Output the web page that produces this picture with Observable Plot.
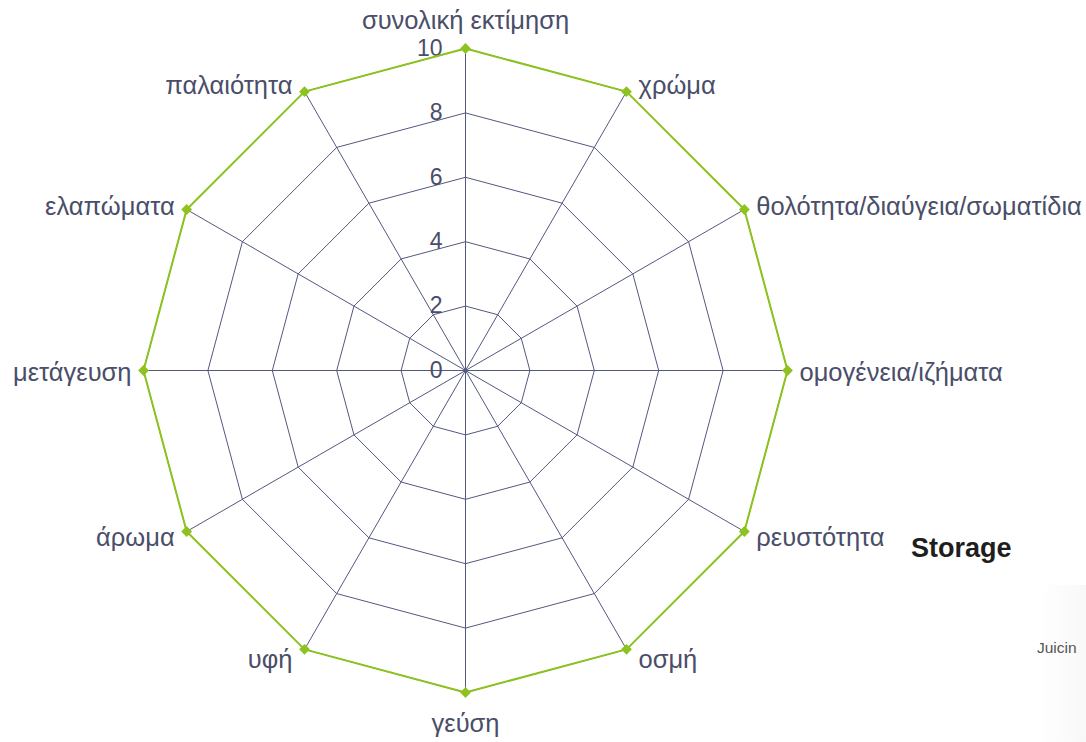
<!DOCTYPE html>
<html>
<head>
<meta charset="utf-8">
<script src="https://cdn.jsdelivr.net/npm/d3@7"></script>
<script src="https://cdn.jsdelivr.net/npm/@observablehq/plot@0.6"></script>
<style>
  html, body { margin: 0; padding: 0; background: #fff; }
  #wrap { position: relative; width: 1086px; height: 742px; overflow: hidden; }
  #chart svg { display: block; }
  .extra { position: absolute; font-family: "Liberation Sans", Arial, sans-serif; white-space: nowrap; }
</style>
</head>
<body>
<div id="wrap">
  <div id="chart"></div>
  <div class="extra" style="left:1040px; top:585px; width:46px; height:157px; background:linear-gradient(to right,rgba(255,255,255,0),#f8f8f8);"></div>
  <div class="extra" style="left:911px; top:533px; font-size:27px; font-weight:bold; color:#1e1e1e;">Storage</div>
  <div class="extra" style="left:1037px; top:639px; font-size:15.5px; color:#555;">Juicin</div>
</div>
<script>
// ---- data ----
const axes = ["συνολική εκτίμηση", "χρώμα", "θολότητα/διαύγεια/σωματίδια", "ομογένεια/ιζήματα",
  "ρευστότητα", "οσμή", "γεύση", "υφή", "άρωμα", "μετάγευση", "ελαπώματα", "παλαιότητα"];
const scores = [10, 10, 10, 10, 10, 10, 10, 10, 10, 10, 10, 10];
const ringLevels = [2, 4, 6, 8, 10];
const tickValues = [0, 2, 4, 6, 8, 10];
const maxValue = 10;

// ---- layout ----
const W = 1086, H = 742;
const cx = 465, cy = 370, R = 322;
const k = R / maxValue; // px per unit
const n = axes.length;
const angle = i => (2 * Math.PI * i) / n;
const px = (v, i) => v * Math.sin(angle(i));
const py = (v, i) => v * Math.cos(angle(i));

const gridColor = "#53587f";
const textColor = "#4a4e69";
const green = "#8dc21f";

const rings = ringLevels.flatMap(level =>
  d3.range(n + 1).map(j => ({level, x: px(level, j % n), y: py(level, j % n)})));
const spokes = axes.map((a, i) => ({x: px(maxValue, i), y: py(maxValue, i)}));
const series = d3.range(n + 1).map(j => ({x: px(scores[j % n], j % n), y: py(scores[j % n], j % n)}));
const points = axes.map((a, i) => ({x: px(scores[i], i), y: py(scores[i], i)}));
const labels = axes.map((a, i) => {
  const s = Math.sin(angle(i)), c = Math.cos(angle(i));
  const side = Math.abs(s) < 1e-6 ? "middle" : (s > 0 ? "start" : "end");
  const dx = side === "middle" ? 0 : (s > 0 ? 12 : -12);
  const dy = side === "middle" ? (c > 0 ? -28 : 31) : 2 - 9.5 * c;
  return {text: a, x: px(maxValue, i), y: py(maxValue, i), side, dx, dy};
});

const labelMarks = labels.map(d => Plot.text([d], {
  x: "x", y: "y", text: "text", textAnchor: d.side, dx: d.dx, dy: d.dy,
  fill: textColor, fontSize: 25.5
}));

const chart = Plot.plot({
  width: W, height: H,
  marginTop: 0, marginRight: 0, marginBottom: 0, marginLeft: 0,
  style: {fontFamily: "'Liberation Sans', Arial, sans-serif", background: "white"},
  x: {domain: [-cx / k, (W - cx) / k], axis: null},
  y: {domain: [-(H - cy) / k, cy / k], axis: null},
  marks: [
    Plot.line(rings, {x: "x", y: "y", z: "level", stroke: gridColor, strokeWidth: 1, curve: "linear"}),
    Plot.link(spokes, {x1: 0, y1: 0, x2: "x", y2: "y", stroke: gridColor, strokeWidth: 1}),
    Plot.dot([{x: 0, y: 0}], {x: "x", y: "y", r: 2, fill: gridColor}),
    Plot.text(tickValues, {x: 0, y: d => d, text: d => String(d), textAnchor: "end", dx: -23,
      fill: textColor, fontSize: 23}),
    Plot.line(series, {x: "x", y: "y", stroke: green, strokeWidth: 2}),
    Plot.dot(points, {x: "x", y: "y", symbol: "square", rotate: 45, r: 4.3, fill: green, stroke: "none"}),
    ...labelMarks
  ]
});
document.getElementById("chart").appendChild(chart);
</script>
</body>
</html>
